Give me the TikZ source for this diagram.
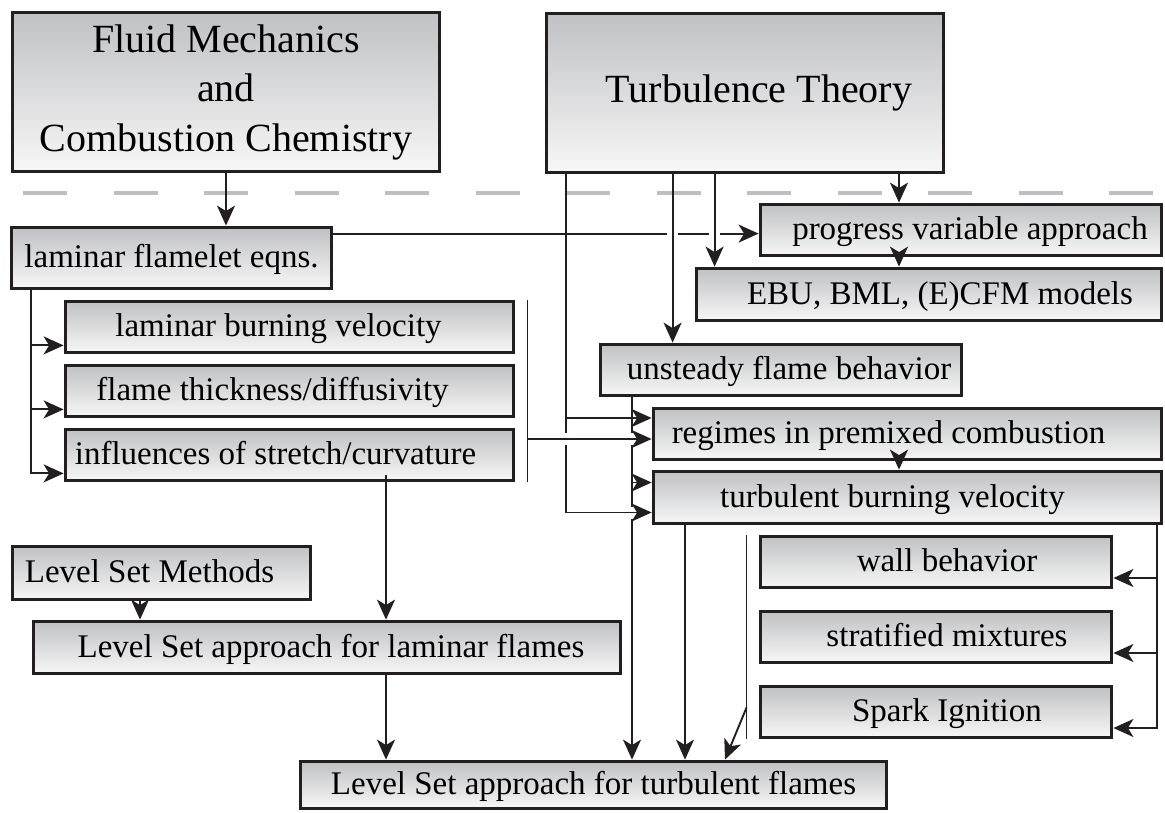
\documentclass[tikz,border=0pt]{standalone}
\usepackage{fontspec}
\setmainfont{Liberation Serif}
\usetikzlibrary{arrows.meta, calc}
\definecolor{boxtop}{RGB}{192,193,196}
\definecolor{boxbot}{RGB}{247,247,247}
\definecolor{ink}{RGB}{35,31,32}
\definecolor{rulegray}{RGB}{190,191,193}

\begin{document}
\begin{tikzpicture}[x=1pt, y=-1pt,
  frame/.style={draw=ink, line width=3.8pt, top color=boxtop, bottom color=boxbot, inner sep=4pt},
  box/.style={frame, font=\fontsize{33}{40}\selectfont, text height=25pt, text depth=6pt},
  title/.style={frame, font=\fontsize{40}{49.5}\selectfont},
  nudge/.style={execute at begin node={\hspace*{#1}}},
  wire/.style={draw=ink, line width=1.9pt},
  arr/.style={wire, arrows={-Stealth[length=20pt, width=18pt, inset=5.5pt]}},
  bar/.style={draw=ink, line width=1.4pt},
  divider/.style={draw=rulegray, line width=4pt, dash pattern=on 44pt off 46.5pt}]
\useasboundingbox (0,0) rectangle (1165,812);

% separator
\draw[divider] (23,193) -- (1163,193);

% top boxes
\node[title, align=center, minimum width=427pt, minimum height=159pt] (fm) at (226,92) {Fluid Mechanics\\and\\Combustion Chemistry};
\node[title, minimum width=397pt, minimum height=159pt, nudge=28pt] (tt) at (745,93) {Turbulence Theory};

% laminar side
\node[box, minimum width=320pt, minimum height=61pt] (lfe) at (171.5,258) {laminar flamelet eqns.};
\node[box, minimum width=448pt, minimum height=51pt, nudge=-22pt] (lbv) at (289.5,327) {laminar burning velocity};
\node[box, minimum width=448pt, minimum height=51pt, nudge=-34pt] (fth) at (289.5,391) {flame thickness/diffusivity};
\node[box, minimum width=448pt, minimum height=51pt, nudge=-28pt] (isc) at (289.5,455) {influences of stretch/curvature};
\node[box, minimum width=298pt, minimum height=53pt, nudge=-24pt] (lsm) at (161.5,573) {Level Set Methods};
\node[box, minimum width=587pt, minimum height=52pt, nudge=8pt] (lsl) at (327,647.5) {Level Set approach for laminar flames};

% turbulent side
\node[box, minimum width=401pt, minimum height=51pt, nudge=18pt] (pva) at (961,230) {progress variable approach};
\node[box, minimum width=465pt, minimum height=52pt, nudge=22pt] (ebu) at (929,294.5) {EBU, BML, (E)CFM models};
\node[box, minimum width=361pt, minimum height=51pt, nudge=16pt] (ufb) at (781,370) {unsteady flame behavior};
\node[box, minimum width=508pt, minimum height=51pt, nudge=-38pt] (rpc) at (907.5,434) {regimes in premixed combustion};
\node[box, minimum width=508pt, minimum height=52pt, nudge=-30pt] (tbv) at (907.5,497.5) {turbulent burning velocity};
\node[box, minimum width=351pt, minimum height=51pt, nudge=22pt] (wall) at (936,562) {wall behavior};
\node[box, minimum width=351pt, minimum height=51pt, nudge=22pt] (strat) at (936,637) {stratified mixtures};
\node[box, minimum width=351pt, minimum height=51pt, nudge=22pt] (spark) at (936,712) {Spark Ignition};
\node[box, minimum width=586pt, minimum height=47pt] (lst) at (593.5,785) {Level Set approach for turbulent flames};

% ports
\coordinate (p) at ([yshift=-8pt]lfe.north east);
\coordinate (l0) at ([xshift=21pt]lfe.south west);
\coordinate (b1) at ([xshift=12pt]lbv.north east);
\coordinate (b2) at ([xshift=12pt]isc.south east);
\coordinate (tA) at ([xshift=21pt]tt.south west);
\coordinate (tB) at ([xshift=128pt]tt.south west);
\coordinate (tC) at ([xshift=170pt]tt.south west);
\coordinate (tD) at ([xshift=154pt]tt.south);
\coordinate (uB) at ([xshift=-149pt]ufb.south);
\coordinate (rpc1) at ([yshift=16pt]rpc.west);
\coordinate (rpc2) at ([yshift=-5pt]rpc.west);
\coordinate (tbv1) at ([yshift=15pt]tbv.west);
\coordinate (tbv2) at ([yshift=-15pt]tbv.west);
\coordinate (tbB) at ([xshift=-222.5pt]tbv.south);
\coordinate (tbR) at ([xshift=-6pt]tbv.south east);
\coordinate (c1) at ([xshift=-12pt]wall.north west);
\coordinate (c2) at ([xshift=-12pt]spark.south west);

% laminar connectors
\draw[arr] (fm.south) -- (fm.south |- lfe.north);
\draw[arr] (p) -- (p -| pva.west);
\draw[arr] (l0) |- ([yshift=9pt]lbv.south west);
\draw[arr] (l0) |- ([yshift=9pt]fth.south west);
\draw[arr] (l0) |- ([yshift=9pt]isc.south west);
\draw[bar] (b1) -- (b2);
\draw[arr] ([xshift=96.5pt, yshift=7pt]isc.south) coordinate (q1) -- (q1 |- lsl.north);
\draw[arr] ([xshift=-21.5pt]lsm.south) coordinate (q2) -- (q2 |- lsl.north);
\draw[arr] ([xshift=59pt]lsl.south) coordinate (q3) -- (q3 |- lst.north);

% turbulence connectors
\fill[white] ($(tB |- p)+(-5.5,-2.5)$) rectangle ++(11,5);
\fill[white] ($(tC |- p)+(-5.5,-2.5)$) rectangle ++(11,5);
\draw[arr] (tD) -- (tD |- pva.north);
\draw[arr] (tD |- pva.south) -- (tD |- ebu.north);
\draw[arr] (tC) -- (tC |- ebu.north);
\draw[arr] (tB) -- (tB |- ufb.north);
\draw[arr] (tD |- rpc.south) -- (tD |- tbv.north);
\draw[arr] (uB) -- (uB |- lst.north);
\draw[arr] (uB |- tbv1) -- (tbv1);
\fill[white] ($(uB |- tbv2)+(-2.5,-6)$) rectangle ++(5,12);
\draw[arr] (tA) |- (tbv2);
\draw[arr] (tA |- rpc1) -- (rpc1);
\fill[white] ($(tA |- rpc2)+(-2.5,-6)$) rectangle ++(5,12);
\fill[white] ($(uB |- rpc2)+(-2.5,-6)$) rectangle ++(5,12);
\draw[arr] (b1 |- rpc2) -- (rpc2);
\draw[arr] (tbB) -- (tbB |- lst.north);
\draw[arr] (tbR) |- ([yshift=-16pt]wall.east);
\draw[arr] (tbR) |- ([yshift=-16pt]strat.east);
\draw[arr] (tbR) |- ([yshift=-16pt]spark.east);
\draw[bar] (c1) -- (c2);
\draw[arr] ([yshift=32pt]c2) -- ([xshift=131.5pt]lst.north);
\end{tikzpicture}
\end{document}
